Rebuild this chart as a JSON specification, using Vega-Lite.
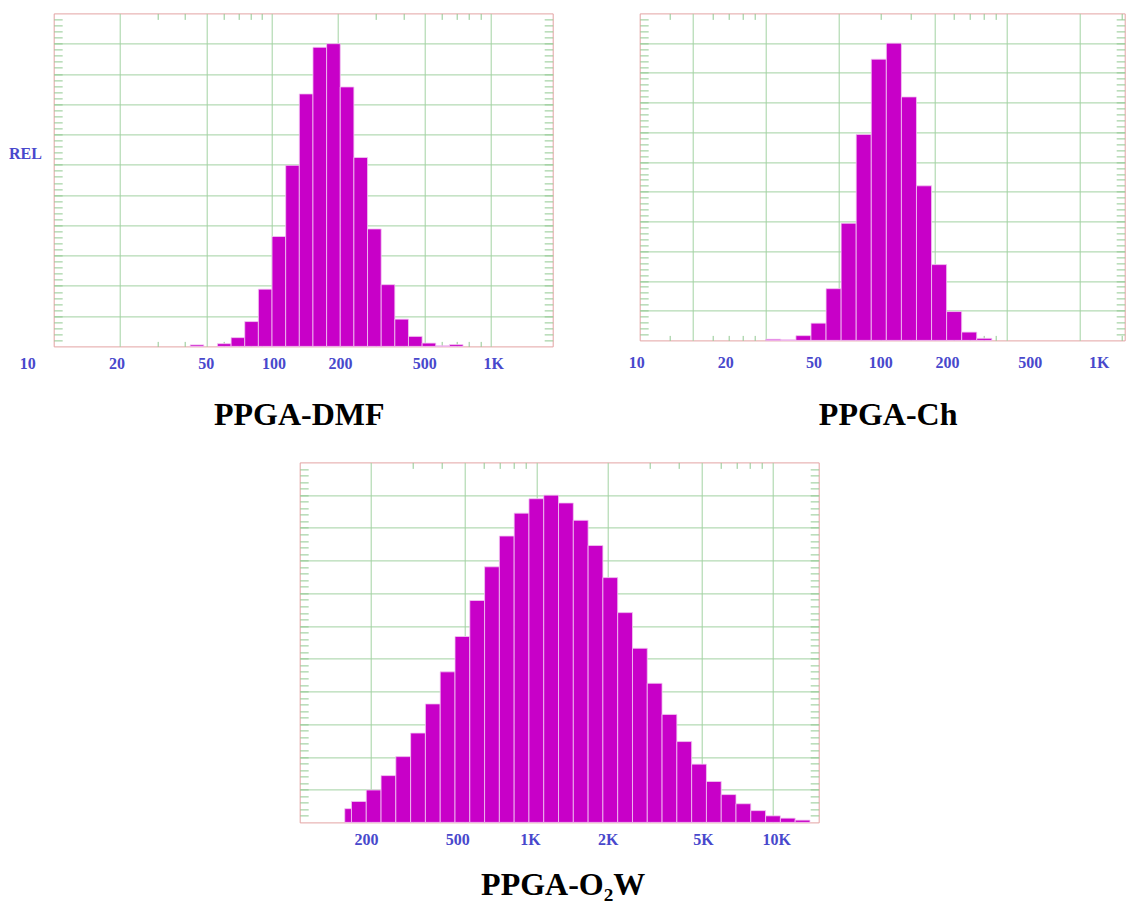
{
  "$schema": "https://vega.github.io/schema/vega-lite/v6.json",
  "autosize": {"type": "none"},
  "padding": {"left": 53.7, "top": 13.4, "right": 1072.3, "bottom": 890.6},
  "background": "white",
  "datasets": {
    "dmf_bins": [
      {"lo": 42.17, "hi": 48.70, "rel": 0.5},
      {"lo": 56.23, "hi": 64.94, "rel": 0.9},
      {"lo": 64.94, "hi": 74.99, "rel": 2.9},
      {"lo": 74.99, "hi": 86.60, "rel": 8.2},
      {"lo": 86.60, "hi": 100, "rel": 18.9},
      {"lo": 100, "hi": 115.48, "rel": 36.3},
      {"lo": 115.48, "hi": 133.35, "rel": 59.8},
      {"lo": 133.35, "hi": 153.99, "rel": 83.4},
      {"lo": 153.99, "hi": 177.83, "rel": 98.8},
      {"lo": 177.83, "hi": 205.35, "rel": 100},
      {"lo": 205.35, "hi": 237.14, "rel": 85.7},
      {"lo": 237.14, "hi": 273.84, "rel": 62.4},
      {"lo": 273.84, "hi": 316.23, "rel": 38.8},
      {"lo": 316.23, "hi": 365.17, "rel": 20.4},
      {"lo": 365.17, "hi": 421.70, "rel": 9.0},
      {"lo": 421.70, "hi": 486.97, "rel": 3.3},
      {"lo": 486.97, "hi": 562.34, "rel": 1.1},
      {"lo": 562.34, "hi": 649.38, "rel": 0.2},
      {"lo": 649.38, "hi": 749.89, "rel": 0.6}
    ],
    "dmf_labels": [
      {"label": "10", "at": 7.6},
      {"label": "20", "at": 19.5},
      {"label": "50", "at": 50},
      {"label": "100", "at": 102},
      {"label": "200", "at": 206},
      {"label": "500", "at": 500},
      {"label": "1K", "at": 1035}
    ],
    "ch_bins": [
      {"lo": 10, "hi": 11.548, "rel": 0.4},
      {"lo": 11.548, "hi": 13.335, "rel": 0.2},
      {"lo": 13.335, "hi": 15.399, "rel": 1.6},
      {"lo": 15.399, "hi": 17.783, "rel": 5.8},
      {"lo": 17.783, "hi": 20.535, "rel": 17.4},
      {"lo": 20.535, "hi": 23.714, "rel": 39.4},
      {"lo": 23.714, "hi": 27.384, "rel": 69.3},
      {"lo": 27.384, "hi": 31.623, "rel": 94.6},
      {"lo": 31.623, "hi": 36.517, "rel": 100},
      {"lo": 36.517, "hi": 42.170, "rel": 81.9},
      {"lo": 42.170, "hi": 48.697, "rel": 52.0},
      {"lo": 48.697, "hi": 56.234, "rel": 25.5},
      {"lo": 56.234, "hi": 64.938, "rel": 9.7},
      {"lo": 64.938, "hi": 74.989, "rel": 2.8},
      {"lo": 74.989, "hi": 86.596, "rel": 0.7}
    ],
    "ch_labels": [
      {"label": "10", "at": 2.92},
      {"label": "20", "at": 6.82},
      {"label": "50", "at": 15.85},
      {"label": "100", "at": 29.96},
      {"label": "200", "at": 56.7},
      {"label": "500", "at": 124.9},
      {"label": "1K", "at": 241.7}
    ],
    "o2w_bins": [
      {"lo": 155, "hi": 165.5, "rel": 4.2},
      {"lo": 165.5, "hi": 191.1, "rel": 6.4},
      {"lo": 191.1, "hi": 220.7, "rel": 9.9},
      {"lo": 220.7, "hi": 254.8, "rel": 14.3},
      {"lo": 254.8, "hi": 294.3, "rel": 20.1},
      {"lo": 294.3, "hi": 339.8, "rel": 27.3},
      {"lo": 339.8, "hi": 392.4, "rel": 36.2},
      {"lo": 392.4, "hi": 453.2, "rel": 46.0},
      {"lo": 453.2, "hi": 523.3, "rel": 56.8},
      {"lo": 523.3, "hi": 604.3, "rel": 67.8},
      {"lo": 604.3, "hi": 697.8, "rel": 78.1},
      {"lo": 697.8, "hi": 805.8, "rel": 87.5},
      {"lo": 805.8, "hi": 930.6, "rel": 94.5},
      {"lo": 930.6, "hi": 1074.6, "rel": 98.9},
      {"lo": 1074.6, "hi": 1240.9, "rel": 100},
      {"lo": 1240.9, "hi": 1433.0, "rel": 97.6},
      {"lo": 1433.0, "hi": 1654.8, "rel": 92.3},
      {"lo": 1654.8, "hi": 1910.9, "rel": 84.6},
      {"lo": 1910.9, "hi": 2206.7, "rel": 74.8},
      {"lo": 2206.7, "hi": 2548.3, "rel": 64.1},
      {"lo": 2548.3, "hi": 2942.7, "rel": 53.2},
      {"lo": 2942.7, "hi": 3398.2, "rel": 42.5},
      {"lo": 3398.2, "hi": 3924.2, "rel": 33.0},
      {"lo": 3924.2, "hi": 4531.6, "rel": 24.7},
      {"lo": 4531.6, "hi": 5233.0, "rel": 17.8},
      {"lo": 5233.0, "hi": 6043.0, "rel": 12.5},
      {"lo": 6043.0, "hi": 6978.3, "rel": 8.5},
      {"lo": 6978.3, "hi": 8058.4, "rel": 5.7},
      {"lo": 8058.4, "hi": 9305.7, "rel": 3.6},
      {"lo": 9305.7, "hi": 10746, "rel": 2.0},
      {"lo": 10746, "hi": 12409, "rel": 1.3},
      {"lo": 12409, "hi": 14330, "rel": 0.7}
    ],
    "o2w_labels": [
      {"label": "200", "at": 191.6},
      {"label": "500", "at": 466},
      {"label": "1K", "at": 944},
      {"label": "2K", "at": 2014},
      {"label": "5K", "at": 5080},
      {"label": "10K", "at": 10370}
    ]
  },
  "bounds": "flush",
  "spacing": 449,
  "vconcat": [
    {
      "bounds": "flush",
      "spacing": 87,
      "hconcat": [
        {
          "width": 499,
          "height": 333,
          "title": {"text": "PPGA-DMF", "orient": "bottom", "frame": "group", "offset": 53, "baseline": "alphabetic", "dx": -4},
          "layer": [
            {
              "data": {"name": "dmf_bins"},
              "mark": {"type": "rect", "fill": "#c800c8", "stroke": "#f3c8f3", "strokeWidth": 0.8},
              "encoding": {
                "x": {
                  "field": "lo", "type": "quantitative",
                  "scale": {"type": "log", "domain": [10, 1930], "nice": false},
                  "axis": {
                    "orient": "bottom", "title": null,
                    "values": [20, 30, 40, 50, 60, 70, 80, 90, 100, 200, 300, 400, 500, 600, 700, 800, 900, 1000],
                    "grid": true,
                    "gridOpacity": {"condition": {"test": "indexof([20, 50, 100, 200, 500, 1000], datum.value) >= 0", "value": 1}, "value": 0},
                    "ticks": true, "tickSize": -5,
                    "tickOpacity": {"condition": {"test": "indexof([20, 50, 100, 200, 500, 1000], datum.value) >= 0", "value": 0}, "value": 1}
                  }
                },
                "x2": {"field": "hi"},
                "y": {
                  "field": "rel", "type": "quantitative",
                  "scale": {"domain": [0, 110], "nice": false},
                  "axis": {
                    "orient": "left",
                    "values": [2,4,6,8,10,12,14,16,18,20,22,24,26,28,30,32,34,36,38,40,42,44,46,48,50,52,54,56,58,60,62,64,66,68,70,72,74,76,78,80,82,84,86,88,90,92,94,96,98,100,102,104,106,108],
                    "grid": true,
                    "gridOpacity": {"condition": {"test": "datum.value % 10 === 0", "value": 1}, "value": 0},
                    "ticks": true, "tickSize": -8.5,
                    "title": "REL", "titleAngle": 0, "titleX": -28.7, "titleY": 140,
                    "titleAlign": "center", "titleBaseline": "middle",
                    "titleFont": "Liberation Serif", "titleFontSize": 16, "titleFontWeight": "bold", "titleColor": "#4848cc"
                  }
                },
                "y2": {"datum": 0}
              }
            },
            {
              "data": {"name": "dmf_labels"},
              "mark": {"type": "text", "dy": 18, "baseline": "middle", "align": "center", "font": "Liberation Serif", "fontWeight": "bold", "fontSize": 16, "color": "#4848cc"},
              "encoding": {
                "x": {
                  "field": "at", "type": "quantitative",
                  "scale": {"type": "log", "domain": [10, 1930], "nice": false},
                  "axis": {"orient": "top", "title": null, "values": [30, 40, 60, 70, 80, 90, 300, 400, 600, 700, 800, 900], "grid": false, "ticks": true, "tickSize": -6}
                },
                "y": {
                  "datum": 0, "type": "quantitative",
                  "scale": {"domain": [0, 110], "nice": false},
                  "axis": {"orient": "right", "title": null, "grid": false, "ticks": true, "tickSize": -8.5,
                    "values": [2,4,6,8,10,12,14,16,18,20,22,24,26,28,30,32,34,36,38,40,42,44,46,48,50,52,54,56,58,60,62,64,66,68,70,72,74,76,78,80,82,84,86,88,90,92,94,96,98,100,102,104,106,108]}
                },
                "text": {"field": "label"}
              }
            }
          ],
          "resolve": {"axis": {"x": "independent", "y": "independent"}}
        },
        {
          "width": 485,
          "height": 327,
          "title": {"text": "PPGA-Ch", "orient": "bottom", "frame": "group", "offset": 54, "baseline": "alphabetic", "dx": 6},
          "layer": [
            {
              "data": {"name": "ch_bins"},
              "mark": {"type": "rect", "fill": "#c800c8", "stroke": "#f3c8f3", "strokeWidth": 0.8},
              "encoding": {
                "x": {
                  "field": "lo", "type": "quantitative",
                  "scale": {"type": "log", "domain": [3, 308], "nice": false},
                  "axis": {
                    "orient": "bottom", "title": null,
                    "values": [4, 5, 6, 7, 8, 9, 10, 20, 30, 40, 50, 60, 70, 80, 90, 100, 200, 300],
                    "grid": true,
                    "gridOpacity": {"condition": {"test": "indexof([5, 10, 20, 50, 100, 200], datum.value) >= 0", "value": 1}, "value": 0},
                    "ticks": true, "tickSize": -5,
                    "tickOpacity": {"condition": {"test": "indexof([5, 10, 20, 50, 100, 200], datum.value) >= 0", "value": 0}, "value": 1}
                  }
                },
                "x2": {"field": "hi"},
                "y": {
                  "field": "rel", "type": "quantitative",
                  "scale": {"domain": [0, 110], "nice": false},
                  "axis": {
                    "orient": "left", "title": null,
                    "values": [2,4,6,8,10,12,14,16,18,20,22,24,26,28,30,32,34,36,38,40,42,44,46,48,50,52,54,56,58,60,62,64,66,68,70,72,74,76,78,80,82,84,86,88,90,92,94,96,98,100,102,104,106,108],
                    "grid": true,
                    "gridOpacity": {"condition": {"test": "datum.value % 10 === 0", "value": 1}, "value": 0},
                    "ticks": true, "tickSize": -8.5
                  }
                },
                "y2": {"datum": 0}
              }
            },
            {
              "data": {"name": "ch_labels"},
              "mark": {"type": "text", "dy": 22.5, "baseline": "middle", "align": "center", "font": "Liberation Serif", "fontWeight": "bold", "fontSize": 16, "color": "#4848cc"},
              "encoding": {
                "x": {
                  "field": "at", "type": "quantitative",
                  "scale": {"type": "log", "domain": [3, 308], "nice": false},
                  "axis": {"orient": "top", "title": null, "values": [4, 6, 7, 8, 9, 30, 40, 60, 70, 80, 90, 300], "grid": false, "ticks": true, "tickSize": -6}
                },
                "y": {
                  "datum": 0, "type": "quantitative",
                  "scale": {"domain": [0, 110], "nice": false},
                  "axis": {"orient": "right", "title": null, "grid": false, "ticks": true, "tickSize": -8.5,
                    "values": [2,4,6,8,10,12,14,16,18,20,22,24,26,28,30,32,34,36,38,40,42,44,46,48,50,52,54,56,58,60,62,64,66,68,70,72,74,76,78,80,82,84,86,88,90,92,94,96,98,100,102,104,106,108]}
                },
                "text": {"field": "label"}
              }
            }
          ],
          "resolve": {"axis": {"x": "independent", "y": "independent"}}
        }
      ]
    },
    {
      "bounds": "flush",
      "spacing": 0,
      "hconcat": [
        {
          "width": 245.6,
          "height": 10,
          "view": {"stroke": null},
          "data": {"values": [{}]},
          "mark": {"type": "point", "opacity": 0}
        },
        {
          "width": 519,
          "height": 360,
          "title": {"text": "PPGA-O₂W", "orient": "bottom", "frame": "group", "offset": 47, "baseline": "alphabetic", "dx": 4},
          "layer": [
            {
              "data": {"name": "o2w_bins"},
              "mark": {"type": "rect", "fill": "#c800c8", "stroke": "#f3c8f3", "strokeWidth": 0.8},
              "encoding": {
                "x": {
                  "field": "lo", "type": "quantitative",
                  "scale": {"type": "log", "domain": [100, 15600], "nice": false},
                  "axis": {
                    "orient": "bottom", "title": null,
                    "values": [200, 300, 400, 500, 600, 700, 800, 900, 1000, 2000, 3000, 4000, 5000, 6000, 7000, 8000, 9000, 10000],
                    "grid": true,
                    "gridOpacity": {"condition": {"test": "indexof([200, 500, 1000, 2000, 5000, 10000], datum.value) >= 0", "value": 1}, "value": 0},
                    "ticks": true, "tickSize": -5,
                    "tickOpacity": {"condition": {"test": "indexof([200, 500, 1000, 2000, 5000, 10000], datum.value) >= 0", "value": 0}, "value": 1}
                  }
                },
                "x2": {"field": "hi"},
                "y": {
                  "field": "rel", "type": "quantitative",
                  "scale": {"domain": [0, 110], "nice": false},
                  "axis": {
                    "orient": "left", "title": null,
                    "values": [2,4,6,8,10,12,14,16,18,20,22,24,26,28,30,32,34,36,38,40,42,44,46,48,50,52,54,56,58,60,62,64,66,68,70,72,74,76,78,80,82,84,86,88,90,92,94,96,98,100,102,104,106,108],
                    "grid": true,
                    "gridOpacity": {"condition": {"test": "datum.value % 10 === 0", "value": 1}, "value": 0},
                    "ticks": true, "tickSize": -8.5
                  }
                },
                "y2": {"datum": 0}
              }
            },
            {
              "data": {"name": "o2w_labels"},
              "mark": {"type": "text", "dy": 17.5, "baseline": "middle", "align": "center", "font": "Liberation Serif", "fontWeight": "bold", "fontSize": 16, "color": "#4848cc"},
              "encoding": {
                "x": {
                  "field": "at", "type": "quantitative",
                  "scale": {"type": "log", "domain": [100, 15600], "nice": false},
                  "axis": {"orient": "top", "title": null, "values": [300, 400, 600, 700, 800, 900, 3000, 4000, 6000, 7000, 8000, 9000], "grid": false, "ticks": true, "tickSize": -6}
                },
                "y": {
                  "datum": 0, "type": "quantitative",
                  "scale": {"domain": [0, 110], "nice": false},
                  "axis": {"orient": "right", "title": null, "grid": false, "ticks": true, "tickSize": -8.5,
                    "values": [2,4,6,8,10,12,14,16,18,20,22,24,26,28,30,32,34,36,38,40,42,44,46,48,50,52,54,56,58,60,62,64,66,68,70,72,74,76,78,80,82,84,86,88,90,92,94,96,98,100,102,104,106,108]}
                },
                "text": {"field": "label"}
              }
            }
          ],
          "resolve": {"axis": {"x": "independent", "y": "independent"}}
        }
      ]
    }
  ],
  "config": {
    "view": {"stroke": "#e3a3a3", "strokeWidth": 1},
    "axis": {
      "labels": false,
      "domain": false,
      "gridColor": "#a2d2a2",
      "gridWidth": 1,
      "tickColor": "#92c992",
      "tickWidth": 1
    },
    "title": {
      "font": "Liberation Serif, DejaVu Serif, serif",
      "fontSize": 32,
      "fontWeight": "bold",
      "color": "#000000",
      "anchor": "middle"
    }
  }
}
